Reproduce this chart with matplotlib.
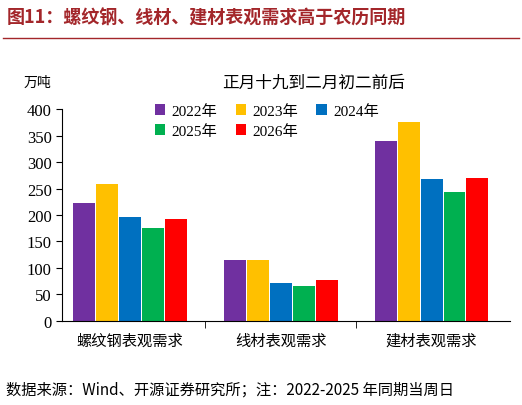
import numpy as np
import matplotlib

matplotlib.use("Agg")
import matplotlib.pyplot as plt
from matplotlib.lines import Line2D

plt.rcParams["font.family"] = ["Noto Sans CJK SC", "DejaVu Sans"]

categories = ["螺纹钢表观需求", "线材表观需求", "建材表观需求"]
years = ["2022年", "2023年", "2024年", "2025年", "2026年"]
values = {
    "2022年": [222, 115, 340],
    "2023年": [258, 115, 375],
    "2024年": [196, 72, 268],
    "2025年": [175, 66, 243],
    "2026年": [192, 77, 270],
}
colors = ["#7030A0", "#FFC000", "#0070C0", "#00B050", "#FF0000"]
serif = ["Times New Roman", "Liberation Serif", "Noto Sans CJK SC"]

fig = plt.figure(figsize=(5.22, 4.06), dpi=100)
ax = fig.add_axes([0.119, 0.207, 0.858, 0.522])

x = np.arange(len(categories))
step, w = 0.152, 0.145
bars = []
for i, (yr, c) in enumerate(zip(years, colors)):
    bars.append(ax.bar(x + (i - 2) * step, values[yr], w, color=c, label=yr))

ax.set_ylim(0, 400)
ax.set_xlim(-0.45, 2.52)
ax.set_yticks(range(0, 401, 50))
ax.set_yticklabels([str(v) for v in range(0, 401, 50)], family=serif, fontsize=12)
ax.set_xticks(x)
ax.set_xticklabels(categories, fontsize=11)
ax.tick_params(axis="x", length=0, pad=8)
ax.set_xticks([0.5, 1.5], minor=True)
ax.tick_params(axis="x", which="minor", length=5)
ax.tick_params(axis="y", length=4, direction="out")
for s in ["top", "right"]:
    ax.spines[s].set_visible(False)

fig.text(0.045, 0.785, "万吨", fontsize=10)
fig.text(0.6, 0.785, "正月十九到二月初二前后", fontsize=12, ha="center")
# legend fills column-wise; reorder so rows read 2022 2023 2024 / 2025 2026
order = [0, 3, 1, 4, 2]
fig.legend([bars[k] for k in order], [years[k] for k in order],
           loc="upper left", bbox_to_anchor=(0.27, 0.775), ncol=3, frameon=False,
           handlelength=0.7, handleheight=0.7, columnspacing=1.2,
           labelspacing=0.4, handletextpad=0.4, prop={"family": serif, "size": 11})

fig.text(0.012, 0.955, "图11：螺纹钢、线材、建材表观需求高于农历同期", fontsize=13,
         color="#A3262A", weight="bold", va="center")
fig.add_artist(Line2D([0.005, 0.995], [0.905, 0.905], color="#A3262A", lw=1))
fig.text(0.012, 0.04, "数据来源：Wind、开源证券研究所；注：2022-2025 年同期当周日", fontsize=11, va="center")

fig.savefig("out.png", dpi=100)
